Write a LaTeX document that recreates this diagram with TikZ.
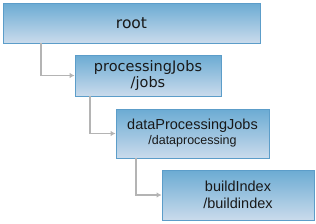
\documentclass[tikz,border=0pt]{standalone}
\usepackage{fontspec}
\setmainfont{DejaVu Sans}
\newfontfamily\arialfont{Liberation Sans}
\usetikzlibrary{arrows.meta, positioning}
\definecolor{boxtop}{RGB}{107,171,211}
\definecolor{boxbottom}{RGB}{202,219,236}
\definecolor{boxline}{RGB}{92,157,201}
\definecolor{linkgray}{RGB}{180,180,180}

\begin{document}
\begin{tikzpicture}[
    x=1pt, y=-1pt,
    box/.style={draw=boxline, rectangle, align=center, top color=boxtop, bottom color=boxbottom, line width=0.8pt, inner sep=0pt, text=black!90},
    link/.style={-{Latex[length=5pt,width=5.5pt]}, draw=linkgray, line width=1.8pt}
]
\useasboundingbox (0,0) rectangle (316,223);

% Nodos
\node (root) [box, minimum width=257pt, minimum height=40pt, font=\fontsize{15.5}{17}\selectfont] at (131.5,23) {root};
\node (jobs) [box, minimum width=146pt, minimum height=41pt, font=\fontsize{14.5}{16.5}\selectfont] at (148,75.5) {processingJobs\\/jobs};
\node (dataproc) [box, minimum width=153pt, minimum height=49pt, font=\arialfont\fontsize{14.5}{15}\selectfont] at (192.5,133.5) {dataProcessingJobs\\{\fontsize{12.5}{14}\selectfont /dataprocessing}};
\node (buildidx) [box, minimum width=152pt, minimum height=50pt, font=\arialfont\fontsize{14.5}{17}\selectfont] at (238,195) {buildIndex\\/buildindex};

% Flechas
\draw [link] ([xshift=38pt]root.south west) |- (jobs.west);
\draw [link] ([xshift=15pt]jobs.south west) |- (dataproc.west);
\draw [link] ([xshift=20pt]dataproc.south west) |- (buildidx.west);

\end{tikzpicture}
\end{document}
